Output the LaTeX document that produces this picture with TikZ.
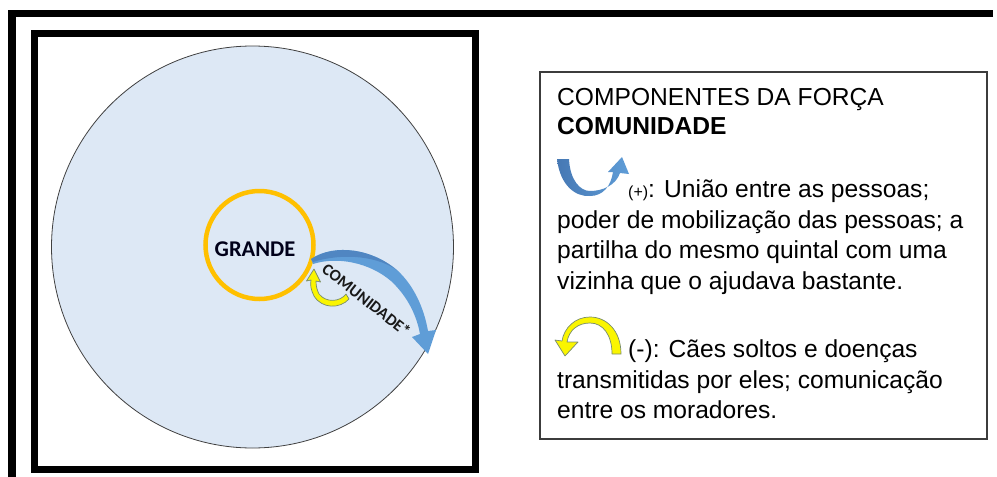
\documentclass[tikz,border=0pt]{standalone}
\usepackage{fontspec}
\setmainfont{Liberation Sans}
\newfontfamily\calib{Carlito}
\definecolor{bgblue}{RGB}{221,232,245}
\definecolor{ringor}{RGB}{255,192,0}
\definecolor{arrD}{RGB}{70,120,180}
\definecolor{arrL}{RGB}{95,157,215}
\definecolor{yelA}{RGB}{250,245,0}
\definecolor{yelO}{RGB}{120,140,110}
\definecolor{boxgray}{RGB}{60,60,60}
\tikzset{
  legtext/.style={anchor=base west, inner sep=0pt, font=\fontsize{24.6}{29}\selectfont},
  frameline/.style={line width=7pt, black, line join=miter},
  yelarrow/.style={fill=yelA, draw=yelO, line width=0.7pt, line join=round},
}
\begin{document}
\begin{tikzpicture}[x=1pt,y=-1pt]
\useasboundingbox (0,0) rectangle (997,477);
% frames
\draw[frameline, line width=7.5pt] (993,13.5) -- (12,13.5) -- (12,480);
\draw[frameline] (34,33.5) rectangle (475,469.5);
% big circle
\node[circle, draw=black!75, line width=0.8pt, fill=bgblue, minimum size=402pt, inner sep=0pt] (big) at (252.5,247) {};
% orange ring
\node[circle, draw=ringor, line width=4.5pt, minimum size=108pt, inner sep=0pt] (ring) at (259.5,245) {};
\node[font=\calib\bfseries\fontsize{22.5}{22.5}\selectfont, text=black!90!blue] (grande) at (255,249) {GRANDE};
% big blue arrow
\fill[arrL] (311,259) .. controls (335,243) and (373,249) .. (398,271)
  .. controls (414,286) and (424,308) .. (428,331) -- (436,330) -- (428,354) -- (412,337) -- (420,334)
  .. controls (416,312) and (405,294) .. (391,281)
  .. controls (370,263) and (338,256) .. (313,264) -- cycle;
\fill[arrD, opacity=0.6] (311,259) .. controls (335,243) and (373,249) .. (398,271)
  .. controls (380,257) and (345,252) .. (313,262) -- cycle;
% small yellow arrow
\path[yelarrow] (349,299) .. controls (340,309) and (322,309) .. (314,296)
  .. controls (311,290) and (310,285) .. (311,280) -- (306.5,281) -- (314,269) -- (320.5,282) -- (316,281)
  .. controls (316,286) and (317,290) .. (319,294)
  .. controls (326,303) and (340,302) .. (346,294) -- cycle;
% label along arrow
\node[font=\calib\bfseries\fontsize{16.5}{16.5}\selectfont, rotate=-38, text=black!90] (com) at (366.5,300) {COMUNIDADE*};
% legend box
\draw[boxgray, line width=1.2pt] (540,72) rectangle (987,439);
\node[legtext] (t1) at (557,105) {COMPONENTES DA FORÇA};
\node[legtext] (t2) at (557,134) {\bfseries COMUNIDADE};
% blue U icon
\shade[left color=arrD, right color=arrL] (557,159) .. controls (560,185) and (575,197) .. (590,196)
  .. controls (603,196) and (611,186) .. (613,172) -- (608,172) -- (622,157) -- (629,174) -- (620,173)
  .. controls (616,185) and (603,191) .. (590,191)
  .. controls (580,191) and (570,180) .. (569,159) -- cycle;
\node[legtext] (p1) at (628,197) {{\fontsize{16}{16}\selectfont(+)}: União entre as pessoas;};
\node[legtext] (p2) at (557,228) {poder de mobilização das pessoas; a};
\node[legtext] (p3) at (557,258) {partilha do mesmo quintal com uma};
\node[legtext] (p4) at (557,289) {vizinha que o ajudava bastante.};
% yellow arch icon
\path[yelarrow] (621,354) .. controls (621,330) and (606,317) .. (590,317)
  .. controls (575,317) and (564,328) .. (562,341) -- (555,340) -- (565,356) -- (578,342) -- (567,342)
  .. controls (569,330) and (578,323) .. (590,323)
  .. controls (603,323) and (612,335) .. (612,354) -- cycle;
\node[legtext] (m1) at (628,357) {(-): Cães soltos e doenças};
\node[legtext] (m2) at (557,388) {transmitidas por eles; comunicação};
\node[legtext] (m3) at (557,418) {entre os moradores.};
\end{tikzpicture}
\end{document}
